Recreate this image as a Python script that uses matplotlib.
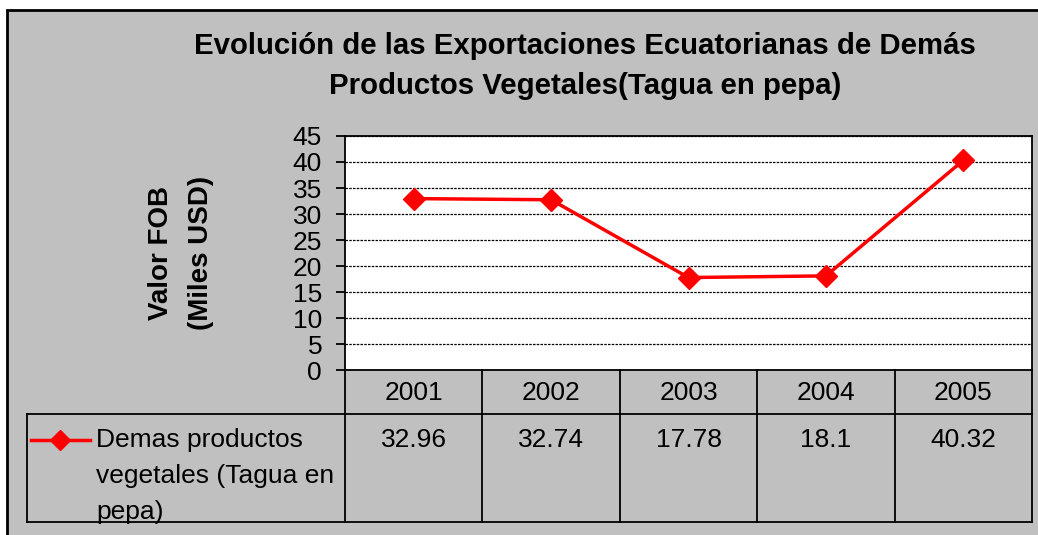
import matplotlib.pyplot as plt
from matplotlib.patches import Rectangle

plt.rcParams['font.family'] = ['Liberation Sans', 'DejaVu Sans']

# data
years = ['2001', '2002', '2003', '2004', '2005']
valores = [32.96, 32.74, 17.78, 18.1, 40.32]
etiquetas = ['32.96', '32.74', '17.78', '18.1', '40.32']
serie = 'Demas productos\nvegetales (Tagua en\npepa)'
titulo = 'Evolución de las Exportaciones Ecuatorianas de Demás\nProductos Vegetales(Tagua en pepa)'

W, H = 1038, 535
gris = '#c0c0c0'
rojo = '#ff0000'
fs = 19

fig = plt.figure(figsize=(W / 100, H / 100), dpi=100)
fig.patch.set_facecolor('white')

# chart area background with border on top/left
fig.patches.append(Rectangle((7 / W, -0.05), 1.1, (H - 10) / H + 0.05,
                             transform=fig.transFigure, facecolor=gris,
                             edgecolor='black', linewidth=2, zorder=-5))

# plot area in pixels
L, R, T, B = 345, 1032, 136, 370
ax = fig.add_axes([L / W, (H - B) / H, (R - L) / W, (B - T) / H])
x = list(range(len(years)))
ax.plot(x, valores, color=rojo, lw=2.5, marker='D', markersize=11,
        markerfacecolor=rojo, markeredgecolor=rojo, zorder=3)
ax.set_xlim(-0.5, len(years) - 0.5)
ax.set_ylim(0, 45)
ax.set_yticks(range(0, 46, 5))
ax.set_xticks([])
ax.set_facecolor('white')
ax.yaxis.grid(True, color='black', linestyle=(0, (2, 1)), linewidth=0.9)
ax.set_axisbelow(True)
for s in ax.spines.values():
    s.set_linewidth(1.3)
    s.set_color('black')
ax.tick_params(axis='y', length=6.5, width=1.3, labelsize=fs, pad=10)

fig.text(181 / W, 1 - 253 / H, 'Valor FOB\n(Miles USD)', rotation=90,
         ha='center', va='center', fontsize=20, fontweight='bold',
         linespacing=1.65)

fig.text(585 / W, 1 - 66 / H, titulo, ha='center', va='center',
         fontsize=21.2, fontweight='bold', linespacing=1.5)

# data table below the plot
TB = 522
tab = fig.add_axes([L / W, (H - TB) / H, (R - L) / W, (TB - B) / H])
tab.set_xlim(-0.5, len(years) - 0.5)
tab.set_ylim(0, 1)
tab.axis('off')
colw = (R - L) / len(years)
def px_x(p):
    return (p - L) / colw - 0.5
def px_y(p):
    return (TB - p) / (TB - B)

y_mid = px_y(414)
x_left = px_x(27)
lk = dict(color='black', lw=1.3, clip_on=False)
for i in range(len(years) + 1):
    tab.plot([i - 0.5, i - 0.5], [0, 1], **lk)
tab.plot([x_left, len(years) - 0.5], [y_mid, y_mid], **lk)
tab.plot([x_left, len(years) - 0.5], [0, 0], **lk)
tab.plot([x_left, x_left], [0, y_mid], **lk)

for i, (yr, et) in enumerate(zip(years, etiquetas)):
    tab.text(i, px_y(393), yr, ha='center', va='center', fontsize=fs)
    tab.text(i, px_y(440), et, ha='center', va='center', fontsize=fs)

# legend key
tab.plot([px_x(31), px_x(90)], [px_y(440)] * 2, color=rojo, lw=2.5,
         clip_on=False)
tab.plot([px_x(60)], [px_y(440)], marker='D', markersize=10, color=rojo,
         clip_on=False)
tab.text(px_x(96), px_y(428), serie, ha='left', va='top', fontsize=fs,
         linespacing=1.64, clip_on=False)

fig.savefig('out.png', dpi=100, facecolor=fig.get_facecolor())
